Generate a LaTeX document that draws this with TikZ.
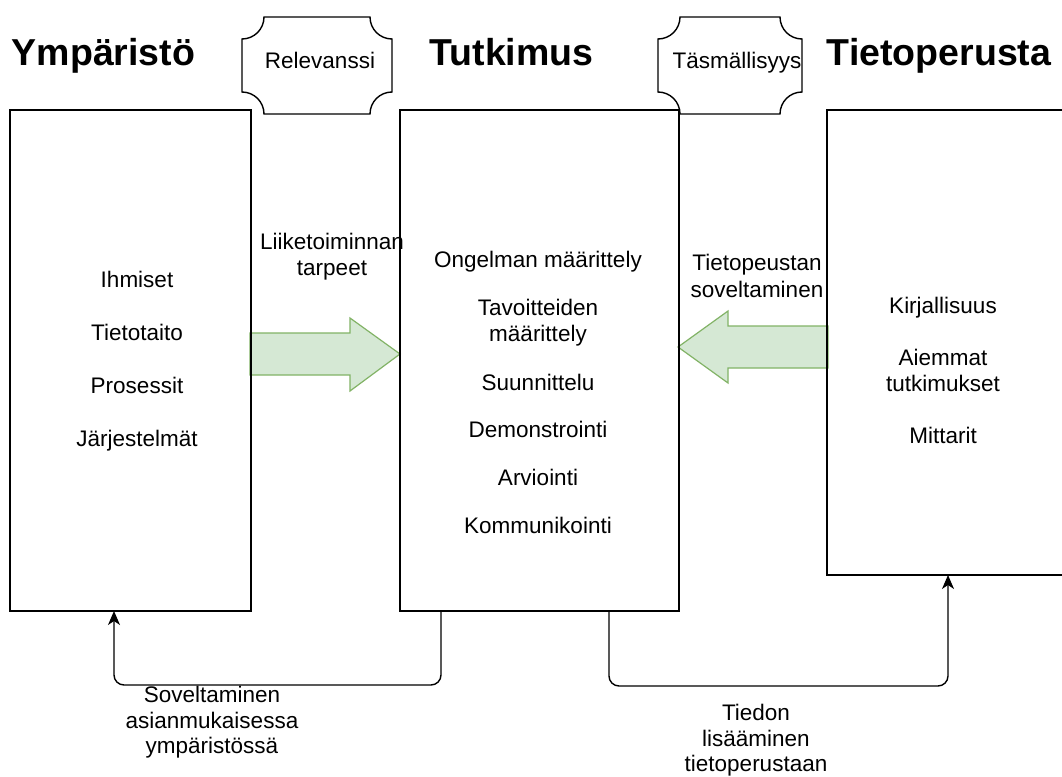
\documentclass[tikz,border=0pt]{standalone}
\usepackage{fontspec}
\setmainfont{Liberation Sans}
\usetikzlibrary{arrows.meta}
\definecolor{arrowfill}{HTML}{D5E8D4}
\definecolor{arrowline}{HTML}{82B366}

% Plaque outline: rectangle with concave quarter-circle corners
% #1,#2 = top-left, #3,#4 = bottom-right, #5 = corner radius
\newcommand\plaquepath[5]{%
  \path[plaquebox] (#1+#5,#2) -- (#3-#5,#2)
    arc[start angle=180,end angle=90,radius=#5] -- (#3,#4-#5)
    arc[start angle=270,end angle=180,radius=#5] -- (#1+#5,#4)
    arc[start angle=0,end angle=-90,radius=#5] -- (#1,#2+#5)
    arc[start angle=90,end angle=0,radius=#5] -- cycle;}

\begin{document}
\begin{tikzpicture}[x=1pt,y=-1pt,
  panel/.style={draw, line width=1.4pt, inner sep=0pt, outer sep=0pt},
  txt/.style={inner sep=0pt, anchor=base, font=\fontsize{22.5}{26}\selectfont},
  heading/.style={inner sep=0pt, anchor=base, font=\fontsize{37.5}{45}\selectfont\bfseries},
  blockarrow/.style={fill=arrowfill, draw=arrowline, line width=1.2pt, line join=miter},
  feedback/.style={draw, line width=1.4pt, rounded corners=10pt,
    -{Stealth[length=14pt,width=12pt,inset=4pt]}},
  plaquebox/.style={draw, fill=white, line width=1.4pt}]
\clip (0,0) rectangle (1062,776);
\fill[white] (0,0) rectangle (1062,776);

% wide block arrows between the panels
\path[blockarrow] (250,333) -- (350,333) -- (350,318) -- (400,354) -- (350,391)
  -- (350,375) -- (250,375) -- cycle;
\path[blockarrow] (828,326) -- (728,326) -- (728,311) -- (678,347) -- (728,383)
  -- (728,368) -- (828,368) -- cycle;

% the three panels
\node[panel, minimum width=241pt, minimum height=501pt] (env) at (130.5,360.5) {};
\node[panel, minimum width=279pt, minimum height=501pt] (res) at (539.5,360.5) {};
\node[panel, minimum width=260pt, minimum height=465pt] (kb)  at (957,342.5) {};

% headings
\node[heading] (henv) at (103.5,66) {Ympäristö};
\node[heading] (hres) at (511.5,66) {Tutkimus};
\node[heading] (hkb)  at (939,66)   {Tietoperusta};

% plaques
\plaquepath{242}{17}{392}{114}{22}
\node[txt] (rel) at (320,69) {Relevanssi};
\plaquepath{658}{17}{802}{114}{22}
\node[txt] (rig) at (737,69) {Täsmällisyys};

% environment contents
\node[txt] (e1) at (137,287) {Ihmiset};
\node[txt] (e2) at (137,340) {Tietotaito};
\node[txt] (e3) at (137,393) {Prosessit};
\node[txt] (e4) at (137,446) {Järjestelmät};

% research contents
\node[txt] (r1)  at (538,267) {Ongelman määrittely};
\node[txt] (r2a) at (538,315) {Tavoitteiden};
\node[txt] (r2b) at (538,341) {määrittely};
\node[txt] (r3)  at (538,390) {Suunnittelu};
\node[txt] (r4)  at (538,437) {Demonstrointi};
\node[txt] (r5)  at (538,485) {Arviointi};
\node[txt] (r6)  at (538,533) {Kommunikointi};

% knowledge base contents
\node[txt] (k1)  at (943,313) {Kirjallisuus};
\node[txt] (k2a) at (943,365) {Aiemmat};
\node[txt] (k2b) at (943,391) {tutkimukset};
\node[txt] (k3)  at (943,443) {Mittarit};

% block arrow labels
\node[txt] (la1) at (332,249) {Liiketoiminnan};
\node[txt] (la2) at (332,275) {tarpeet};
\node[txt] (lb1) at (757,270) {Tietopeustan};
\node[txt] (lb2) at (757,297) {soveltaminen};

% feedback connectors
\draw[feedback] ([xshift=41pt]res.south west) -- ++(0,74) -| ([xshift=104pt]env.south west);
\draw[feedback] ([xshift=209pt]res.south west) -- ++(0,75) -| ([xshift=121pt]kb.south west);

\node[txt] (fa1) at (212,702) {Soveltaminen};
\node[txt] (fa2) at (212,728) {asianmukaisessa};
\node[txt] (fa3) at (212,753) {ympäristössä};
\node[txt] (fb1) at (756,720) {Tiedon};
\node[txt] (fb2) at (756,746) {lisääminen};
\node[txt] (fb3) at (756,771) {tietoperustaan};
\end{tikzpicture}
\end{document}
